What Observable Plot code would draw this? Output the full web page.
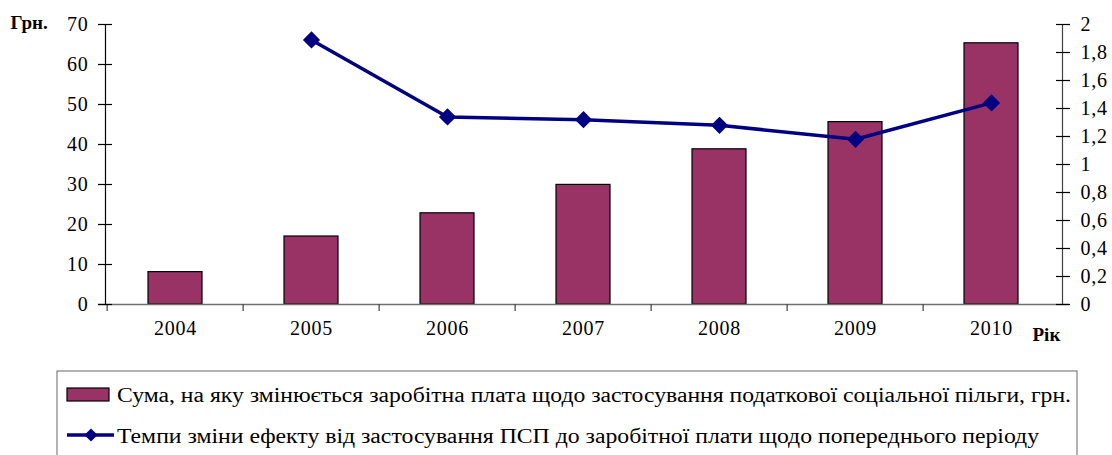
<!DOCTYPE html>
<html>
<head>
<meta charset="utf-8">
<script src="https://cdn.jsdelivr.net/npm/d3@7"></script>
<script src="https://cdn.jsdelivr.net/npm/@observablehq/plot@0.6"></script>
<style>
  body { margin: 0; background: white; }
  #wrap { position: relative; width: 1112px; height: 455px; overflow: hidden; font-family: 'Liberation Serif'; }
  #legend { position: absolute; left: 0; top: 365px; }
</style>
</head>
<body>
<div id="wrap"></div>
<script>
const years = ["2004", "2005", "2006", "2007", "2008", "2009", "2010"];
const amounts = [8.1, 17.0, 22.8, 29.9, 38.8, 45.6, 65.3];
const rates = [null, 1.89, 1.34, 1.32, 1.28, 1.18, 1.44];
const leftTicks = [0, 10, 20, 30, 40, 50, 60, 70];
const rightTicks = [0, 0.2, 0.4, 0.6, 0.8, 1, 1.2, 1.4, 1.6, 1.8, 2];
const rightTickLabels = ["0", "0,2", "0,4", "0,6", "0,8", "1", "1,2", "1,4", "1,6", "1,8", "2"];
const legendLabels = [
  "Сума, на яку змінюється заробітна плата щодо застосування податкової соціальної пільги, грн.",
  "Темпи зміни ефекту від застосування ПСП до заробітної плати щодо попереднього періоду"
];
const barColor = "#993366";
const lineColor = "#000080";

const data = years.map((year, i) => ({year, amount: amounts[i], rate: rates[i]}));
const lineData = data.filter(d => d.rate != null);

const W = 1112, H = 365, mL = 105, mR = 50, mT = 24, mB = 61;
const yMax = 70, rMax = 2;
const k = yMax / rMax; // right-axis units mapped onto left scale
const step = (W - mL - mR) / years.length;
const FONT = "'Liberation Serif'";

const chart = Plot.plot({
  width: W, height: H,
  marginLeft: mL, marginRight: mR, marginTop: mT, marginBottom: mB,
  x: {domain: years, paddingInner: 0.6, paddingOuter: 0.3},
  y: {domain: [0, yMax]},
  style: {fontFamily: FONT, fontSize: "20px", color: "black", background: "white", overflow: "visible"},
  marks: [
    Plot.barY(data, {x: "year", y: "amount", fill: barColor, stroke: "black", strokeWidth: 1.2}),
    Plot.ruleY([0], {stroke: "#707070", strokeWidth: 1.5, insetLeft: -7, insetRight: -7}),
    Plot.ruleX(years, {x: d => d, y1: 0, y2: -1.75, dx: -step / 2, stroke: "#404040", strokeWidth: 1.2}),
    Plot.frame({anchor: "left", stroke: "black", strokeWidth: 1.2}),
    Plot.frame({anchor: "right", stroke: "#404040", strokeWidth: 1.2}),
    Plot.axisY({ticks: leftTicks, tickSize: 14, dx: 7, tickPadding: 10, label: null, strokeWidth: 1.2}),
    Plot.axisY({anchor: "right", ticks: rightTicks.map(v => v * k),
      tickFormat: v => rightTickLabels[rightTicks.findIndex(t => Math.abs(t * k - v) < 1e-6)],
      tickSize: 14, dx: -7, tickPadding: 11, label: null, strokeWidth: 1.2}),
    Plot.axisX({tickSize: 0, tickPadding: 16, label: null}),
    Plot.line(lineData, {x: "year", y: d => d.rate * k, stroke: lineColor, strokeWidth: 3.5}),
    Plot.dot(lineData, {x: "year", y: d => d.rate * k, symbol: "diamond2", r: 6.8, fill: lineColor, stroke: lineColor}),
    Plot.text(["Грн."], {frameAnchor: "top-left", textAnchor: "start", lineAnchor: "bottom", dx: -95, dy: 4, fontWeight: "bold", fontSize: 19}),
    Plot.text(["Рік"], {frameAnchor: "bottom-right", textAnchor: "start", lineAnchor: "bottom", dx: -30, dy: 36, fontWeight: "bold", fontSize: 19})
  ]
});

chart.querySelectorAll("text, g").forEach(t => { t.style.fontFamily = "'Liberation Serif'"; });
chart.querySelectorAll("g[aria-label='x-axis tick label'] text, g[aria-label='y-axis tick label'] text").forEach(t => { t.style.letterSpacing = "0.8px"; });

const wrap = document.getElementById("wrap");
wrap.appendChild(chart);

// Legend (below the chart SVG)
const ns = "http://www.w3.org/2000/svg";
const leg = document.createElementNS(ns, "svg");
leg.setAttribute("id", "legend");
leg.setAttribute("width", W);
leg.setAttribute("height", 90);
function el(tag, attrs, text) {
  const e = document.createElementNS(ns, tag);
  for (const [a, v] of Object.entries(attrs)) e.setAttribute(a, v);
  if (text != null) { e.textContent = text; e.style.fontFamily = "'Liberation Serif'"; e.style.fontSize = "20px"; }
  leg.appendChild(e);
  return e;
}
el("rect", {x: 57, y: 6, width: 1020, height: 120, fill: "white", stroke: "#808080", "stroke-width": 1.2});
el("rect", {x: 67, y: 23, width: 42, height: 13, fill: barColor, stroke: "black", "stroke-width": 1.2});
el("text", {x: 117, y: 37, textLength: 954, lengthAdjust: "spacingAndGlyphs"}, legendLabels[0]);
el("line", {x1: 67, x2: 114, y1: 70, y2: 70, stroke: lineColor, "stroke-width": 3.5});
el("path", {d: d3.symbol(d3.symbolDiamond2, 110)(), transform: "translate(91,70)", fill: lineColor});
el("text", {x: 117, y: 78, textLength: 922, lengthAdjust: "spacingAndGlyphs"}, legendLabels[1]);
wrap.appendChild(leg);
</script>
</body>
</html>
